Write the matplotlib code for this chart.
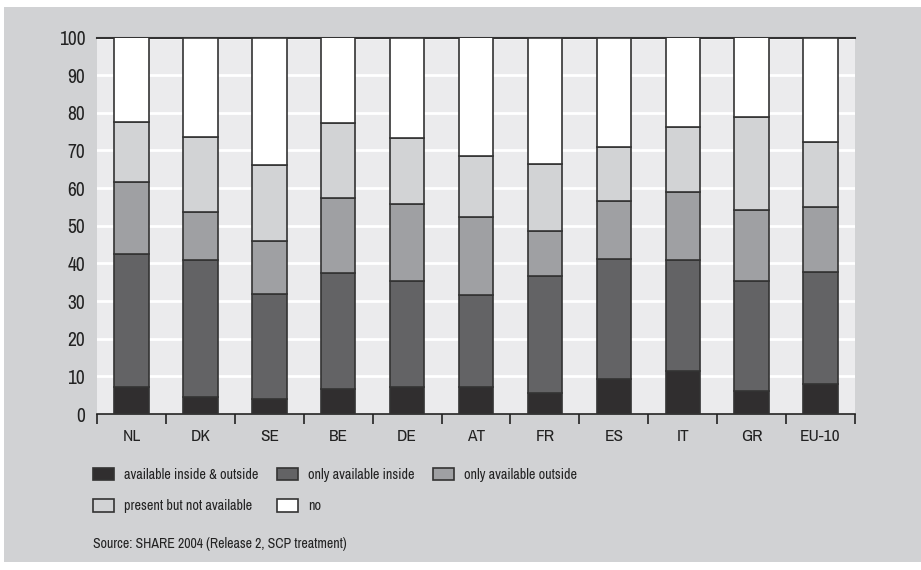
import numpy as np
import matplotlib.pyplot as plt
from matplotlib.patches import Rectangle, Patch

countries = ['NL', 'DK', 'SE', 'BE', 'DE', 'AT', 'FR', 'ES', 'IT', 'GR', 'EU-10']
series = ['available inside & outside', 'only available inside', 'only available outside',
          'present but not available', 'no']

# cumulative tops (percent)
top_both = [7.2, 4.4, 4.1, 6.7, 7.2, 7.2, 5.6, 9.4, 11.4, 6.2, 8.0]
top_inside = [42.4, 40.8, 32.0, 37.5, 35.2, 31.5, 36.6, 41.3, 40.9, 35.2, 37.8]
top_outside = [61.5, 53.7, 46.0, 57.3, 55.9, 52.2, 48.7, 56.5, 58.9, 54.2, 54.9]
top_present = [77.5, 73.5, 66.1, 77.4, 73.2, 68.6, 66.5, 71.0, 76.3, 78.8, 72.2]
top_no = [100] * 11

colors = ['#302e2f', '#636365', '#9fa0a3', '#d2d3d5', '#ffffff']
edge = '#333333'
txt_color = '#222222'

plt.rcParams['font.family'] = ['Archivo Narrow', 'Roboto Condensed', 'DejaVu Sans']

fig = plt.figure(figsize=(9.21, 5.70), dpi=100, facecolor='white')
# gray panel behind the chart
fig.patches.append(Rectangle((4 / 921, 8 / 570), 917 / 921, 555 / 570,
                             transform=fig.transFigure, facecolor='#d1d2d4',
                             edgecolor='none', zorder=-10))

ax = fig.add_axes([97 / 921, 1 - 414 / 570, 758 / 921, 376.5 / 570])
ax.set_facecolor('#ebebed')

x = np.arange(len(countries))
tops = [top_both, top_inside, top_outside, top_present, top_no]
bottom = np.zeros(len(countries))
for i, t in enumerate(tops):
    t = np.array(t)
    ax.bar(x, t - bottom, bottom=bottom, width=0.5, color=colors[i],
           edgecolor=edge, linewidth=1.2, zorder=3)
    bottom = t

ax.set_xlim(-0.5, len(countries) - 0.5)
ax.set_ylim(0, 100)
ax.set_yticks(np.arange(0, 101, 10))
ax.yaxis.grid(True, color='white', linewidth=2, zorder=0)
ax.set_axisbelow(True)
ax.tick_params(axis='y', length=0, labelsize=14, pad=8.5, labelcolor=txt_color)

ax.set_xticks(x)
ax.set_xticklabels(countries)
ax.tick_params(axis='x', length=0, labelsize=12.5, pad=11, labelcolor=txt_color)
ax.set_xticks(np.arange(-0.5, len(countries)), minor=True)
ax.tick_params(axis='x', which='minor', length=7, width=1.2, color=txt_color, direction='out')

for s in ['left', 'right']:
    ax.spines[s].set_visible(False)
ax.spines['bottom'].set_color(txt_color)
ax.spines['bottom'].set_linewidth(1.2)
ax.spines['top'].set_color('#333333')
ax.spines['top'].set_linewidth(1.5)

handles = [Patch(facecolor=c, edgecolor=edge, linewidth=1.2) for c in colors]
order = [0, 3, 1, 4, 2]
fig.legend([handles[i] for i in order], [series[i] for i in order],
           ncol=3, loc='upper left', bbox_to_anchor=(80 / 921, 1 - 455 / 570),
           frameon=False, fontsize=10.2, handlelength=1.5, handleheight=1.0,
           handletextpad=0.7, columnspacing=1.3, labelspacing=1.2,
           labelcolor=txt_color)

fig.text(93 / 921, 1 - 544 / 570, 'Source: SHARE 2004 (Release 2, SCP treatment)',
         fontsize=10, color=txt_color, va='center', ha='left')

fig.savefig('out.png', dpi=100, facecolor='white')
